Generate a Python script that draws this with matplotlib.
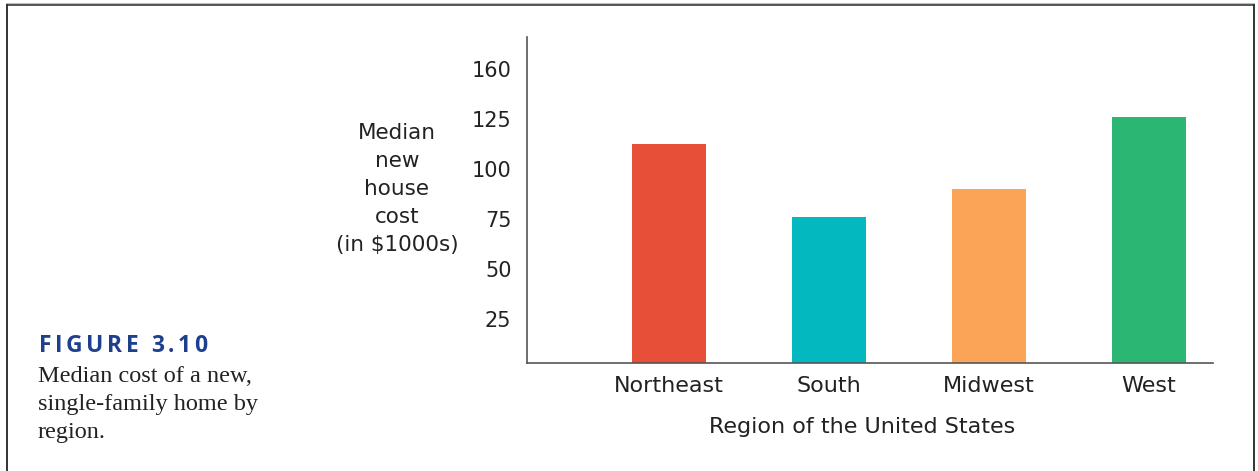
import matplotlib.pyplot as plt
from matplotlib.lines import Line2D

regions = ["Northeast", "South", "Midwest", "West"]
median_cost = [112.5, 76, 90, 126]
bar_colors = ["#E84F38", "#03B8BE", "#F9A456", "#2BB673"]
y_ticks = [25, 50, 75, 100, 125, 150]
y_tick_labels = ["25", "50", "75", "100", "125", "160"]
caption_lines = ["Median cost of a new,", "single-family home by", "region."]

W, H = 1258, 471
fig = plt.figure(figsize=(W / 100, H / 100), dpi=100)
fig.patch.set_facecolor("white")


def fx(px):
    return px / W


def fy(py):
    return 1 - py / H


# page frame around the figure
fig.add_artist(Line2D([fx(7), fx(1254)], [fy(3.5), fy(3.5)], color="#b0b0b0", lw=1.2, transform=fig.transFigure))
fig.add_artist(Line2D([fx(7), fx(1254)], [fy(5), fy(5)], color="#555555", lw=1.4, transform=fig.transFigure))
fig.add_artist(Line2D([fx(7), fx(7)], [fy(5), 0], color="#333333", lw=1.4, transform=fig.transFigure))
fig.add_artist(Line2D([fx(1254), fx(1254)], [fy(5), 0], color="#333333", lw=1.4, transform=fig.transFigure))

ax = fig.add_axes([fx(526.7), fy(363.3), fx(1213 - 526.7), (363.3 - 36.7) / H])
x = range(len(regions))
ax.bar(x, median_cost, width=0.46, color=bar_colors)

ax.set_xlim(-0.89, 3.40)
ax.set_ylim(3, 166.3)
ax.set_yticks(y_ticks)
ax.set_yticklabels(y_tick_labels)
ax.set_xticks(list(x))
ax.set_xticklabels(regions)
ax.tick_params(axis="both", length=0, labelsize=15, colors="#222222")
ax.tick_params(axis="x", labelsize=16, pad=9)
ax.tick_params(axis="y", pad=11)
for side in ["top", "right"]:
    ax.spines[side].set_visible(False)
for side in ["left", "bottom"]:
    ax.spines[side].set_color("#555555")
    ax.spines[side].set_linewidth(1.2)

fig.text(fx(397), fy(189), "Median\nnew\nhouse\ncost\n(in $1000s)", ha="center", va="center",
         fontsize=15.5, color="#222222", linespacing=1.5)
fig.text(fx(862), fy(427), "Region of the United States", ha="center", va="center",
         fontsize=16, color="#222222")

# figure number with wide letter spacing, drawn one letter at a time
renderer = fig.canvas.get_renderer()
cur = 39
for ch in "FIGURE 3.10":
    t = fig.text(fx(cur), fy(352), ch, ha="left", va="baseline", fontsize=16.5,
                 fontweight="bold", color="#1E3F8C", family="Open Sans")
    w = t.get_window_extent(renderer).width if ch != " " else 6
    cur += w + 3.5

for i, line in enumerate(caption_lines):
    fig.text(fx(38), fy(382 + 28 * i), line, ha="left", va="baseline",
             fontsize=17.5, color="#222222", family="Liberation Serif")

fig.savefig("out.png", dpi=100)
